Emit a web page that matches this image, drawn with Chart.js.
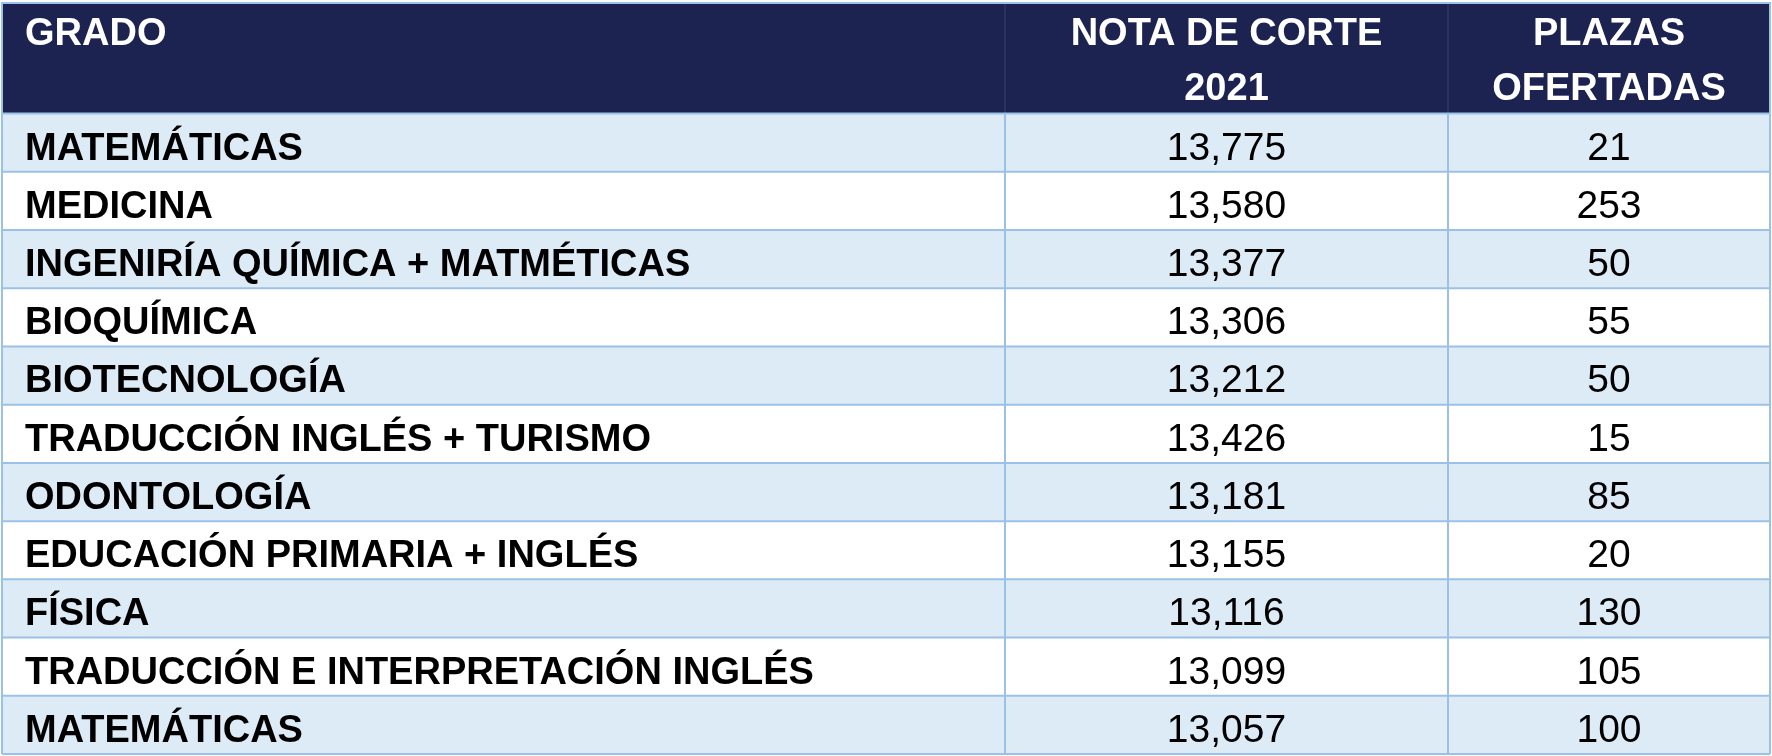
<!DOCTYPE html>
<html>
<head>
<meta charset="utf-8">
<script src="https://cdn.jsdelivr.net/npm/chart.js@4/dist/chart.umd.min.js"></script>
<style>
    html, body { margin: 0; padding: 0; background: #fff; }
    #wrap { width: 1772px; height: 756px; position: relative; }
</style>
</head>
<body>
<div id="wrap"><canvas id="tabla"></canvas></div>
<script>
// datos de la tabla
const encabezados = [['GRADO'], ['NOTA DE CORTE', '2021'], ['PLAZAS', 'OFERTADAS']];
const grados = [
    'MATEMÁTICAS',
    'MEDICINA',
    'INGENIRÍA QUÍMICA + MATMÉTICAS',
    'BIOQUÍMICA',
    'BIOTECNOLOGÍA',
    'TRADUCCIÓN INGLÉS + TURISMO',
    'ODONTOLOGÍA',
    'EDUCACIÓN PRIMARIA + INGLÉS',
    'FÍSICA',
    'TRADUCCIÓN E INTERPRETACIÓN INGLÉS',
    'MATEMÁTICAS'
];
const notasCorte = [13.775, 13.580, 13.377, 13.306, 13.212, 13.426, 13.181, 13.155, 13.116, 13.099, 13.057];
const plazas = [21, 253, 50, 55, 50, 15, 85, 20, 130, 105, 100];

// layout (unidades de escala, no datos)
const anchoCols = [1003, 443, 322];
const altoCabecera = 1.9;
const totalFilas = altoCabecera + grados.length;

const colores = {
    cabecera: '#1c2350',
    filaAzul: '#ddebf7',
    filaBlanca: '#ffffff',
    borde: '#9bc2e6',
    bordeCabecera: '#2c3868'
};
const fuente = '"Liberation Sans", Arial, sans-serif';

const totalAncho = anchoCols.reduce((a, b) => a + b, 0);
const bordesCol = anchoCols.reduce((acc, w) => {
    acc.push(acc[acc.length - 1] + w / totalAncho);
    return acc;
}, [0]);

const formatoNota = v => v.toFixed(3).replace('.', ',');

const tablaPlugin = {
    id: 'tabla',
    beforeDatasetsDraw(chart) {
        const {ctx, scales: {x, y}} = chart;
        const px = v => x.getPixelForValue(v);
        const py = v => y.getPixelForValue(v);
        const izq = px(0), der = px(1);

        ctx.save();

        // cabecera
        ctx.fillStyle = colores.cabecera;
        ctx.fillRect(izq, py(0), der - izq, py(altoCabecera) - py(0));

        // filas
        grados.forEach((g, i) => {
            let top = py(altoCabecera + i), bottom = py(altoCabecera + i + 1);
            ctx.fillStyle = i % 2 === 0 ? colores.filaAzul : colores.filaBlanca;
            ctx.fillRect(izq, top, der - izq, bottom - top);
        });

        // lineas verticales de la cabecera
        ctx.strokeStyle = colores.bordeCabecera;
        ctx.lineWidth = 1.5;
        for (let c = 1; c < bordesCol.length - 1; c++) {
            ctx.beginPath();
            ctx.moveTo(px(bordesCol[c]), py(0));
            ctx.lineTo(px(bordesCol[c]), py(altoCabecera));
            ctx.stroke();
        }

        // bordes del cuerpo
        ctx.strokeStyle = colores.borde;
        ctx.lineWidth = 2;
        for (let r = 0; r <= grados.length; r++) {
            let yy = py(altoCabecera + r);
            ctx.beginPath();
            ctx.moveTo(izq, yy);
            ctx.lineTo(der, yy);
            ctx.stroke();
        }
        bordesCol.forEach(b => {
            ctx.beginPath();
            ctx.moveTo(px(b), py(altoCabecera));
            ctx.lineTo(px(b), py(totalFilas));
            ctx.stroke();
        });
        // borde exterior
        ctx.beginPath();
        ctx.moveTo(izq, py(totalFilas));
        ctx.lineTo(izq, py(0));
        ctx.lineTo(der, py(0));
        ctx.lineTo(der, py(altoCabecera));
        ctx.stroke();

        // textos de la cabecera
        ctx.fillStyle = '#ffffff';
        ctx.font = 'bold 38px ' + fuente;
        ctx.textBaseline = 'alphabetic';
        const lineasCab = [0.72, 1.67];
        encabezados.forEach((lineas, c) => {
            lineas.forEach((t, k) => {
                if (c === 0) {
                    ctx.textAlign = 'left';
                    ctx.fillText(t, px(bordesCol[0]) + 23, py(lineasCab[k]));
                } else {
                    ctx.textAlign = 'center';
                    ctx.fillText(t, (px(bordesCol[c]) + px(bordesCol[c + 1])) / 2, py(lineasCab[k]));
                }
            });
        });

        // textos del cuerpo
        ctx.fillStyle = '#000000';
        grados.forEach((g, i) => {
            let base = py(altoCabecera + i + 0.79);
            ctx.font = 'bold 38px ' + fuente;
            ctx.textAlign = 'left';
            ctx.fillText(g, px(bordesCol[0]) + 23, base);

            ctx.font = '39px ' + fuente;
            ctx.textAlign = 'center';
            ctx.fillText(formatoNota(notasCorte[i]), (px(bordesCol[1]) + px(bordesCol[2])) / 2, base);
            ctx.fillText(String(plazas[i]), (px(bordesCol[2]) + px(bordesCol[3])) / 2, base);
        });

        ctx.restore();
    }
};

new Chart(document.getElementById('tabla'), {
    type: 'bar',
    data: {
        labels: grados,
        datasets: []
    },
    options: {
        responsive: true,
        maintainAspectRatio: false,
        animation: false,
        layout: {
            padding: {top: 3, left: 2, right: 2, bottom: 2}
        },
        plugins: {
            legend: {display: false},
            tooltip: {enabled: false}
        },
        scales: {
            x: {type: 'linear', min: 0, max: 1, offset: false, display: false},
            y: {type: 'linear', min: 0, max: totalFilas, reverse: true, offset: false, display: false}
        }
    },
    plugins: [tablaPlugin]
});
</script>
</body>
</html>
